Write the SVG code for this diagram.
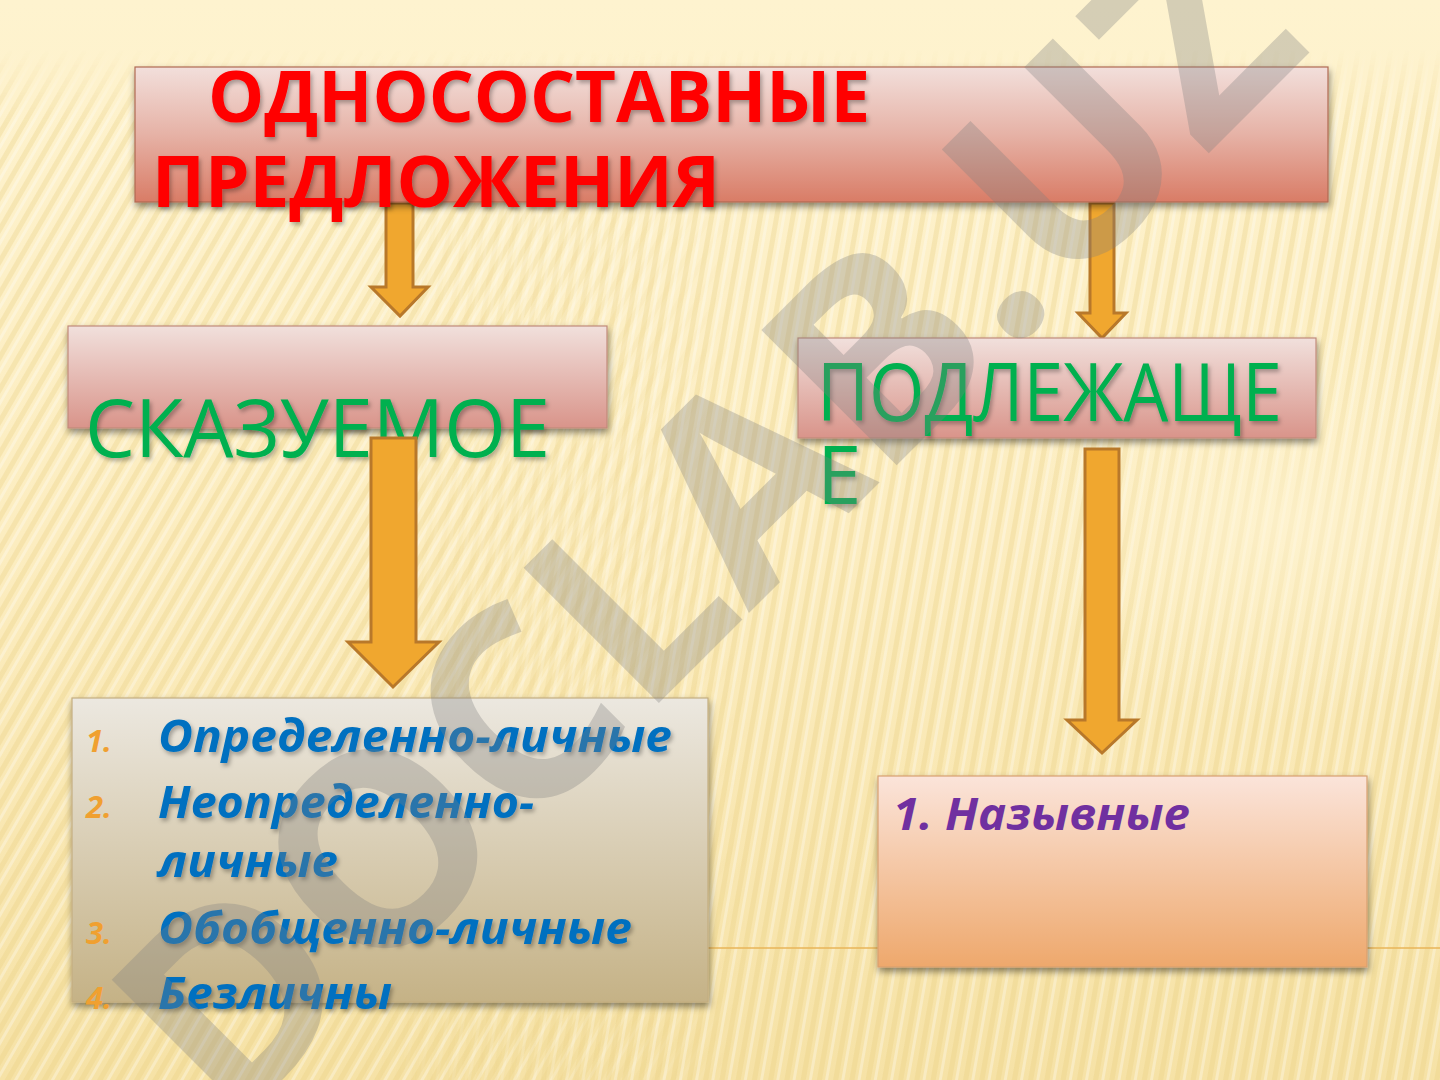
<svg xmlns="http://www.w3.org/2000/svg" width="1440" height="1080" viewBox="0 0 1440 1080">
<defs>
  <linearGradient id="bg" x1="0" y1="0" x2="0" y2="1">
    <stop offset="0" stop-color="#fef3cf"/>
    <stop offset="0.5" stop-color="#fcedc0"/>
    <stop offset="1" stop-color="#f6e2a6"/>
  </linearGradient>
  <linearGradient id="fadeTopL" x1="0" y1="0" x2="1" y2="0">
    <stop offset="0" stop-color="#fff" stop-opacity="1"/>
    <stop offset="0.45" stop-color="#fff" stop-opacity="1"/>
    <stop offset="0.75" stop-color="#fff" stop-opacity="0"/>
  </linearGradient>
  <linearGradient id="fadeTopR" x1="0" y1="0" x2="1" y2="0">
    <stop offset="0" stop-color="#fff" stop-opacity="0"/>
    <stop offset="0.25" stop-color="#fff" stop-opacity="0"/>
    <stop offset="0.45" stop-color="#fff" stop-opacity="1"/>
    <stop offset="1" stop-color="#fff" stop-opacity="1"/>
  </linearGradient>
  <linearGradient id="fadeV" x1="0" y1="0" x2="0" y2="1">
    <stop offset="0" stop-color="#fff" stop-opacity="0"/>
    <stop offset="0.07" stop-color="#fff" stop-opacity="1"/>
    <stop offset="1" stop-color="#fff" stop-opacity="1"/>
  </linearGradient>
  <mask id="maskV">
    <rect x="0" y="50" width="1440" height="1030" fill="url(#fadeV)"/>
  </mask>
  <mask id="maskL">
    <rect x="0" y="0" width="1000" height="1080" fill="url(#fadeTopL)"/>
  </mask>
  <mask id="maskR">
    <rect x="0" y="0" width="1440" height="1080" fill="url(#fadeTopR)"/>
  </mask>
  <pattern id="stripesL" width="16" height="16" patternUnits="userSpaceOnUse" patternTransform="rotate(30)">
    <rect x="0" y="0" width="5" height="16" fill="#e8cf80" opacity="0.3"/>
    <rect x="8" y="0" width="3" height="16" fill="#ffffff" opacity="0.3"/>
  </pattern>
  <pattern id="stripesR" width="16" height="16" patternUnits="userSpaceOnUse" patternTransform="rotate(10)">
    <rect x="0" y="0" width="5" height="16" fill="#e8cf80" opacity="0.3"/>
    <rect x="8" y="0" width="3" height="16" fill="#ffffff" opacity="0.3"/>
  </pattern>
  <radialGradient id="blob" cx="0.5" cy="0.5" r="0.5">
    <stop offset="0" stop-color="#fff6d8" stop-opacity="0.6"/>
    <stop offset="1" stop-color="#fff6d8" stop-opacity="0"/>
  </radialGradient>
  <linearGradient id="pinkGrad" x1="0" y1="0" x2="0" y2="1">
    <stop offset="0" stop-color="#f2dfdb"/>
    <stop offset="0.5" stop-color="#e6b2a6"/>
    <stop offset="1" stop-color="#d97c66"/>
  </linearGradient>
  <linearGradient id="pinkGrad2" x1="0" y1="0" x2="0" y2="1">
    <stop offset="0" stop-color="#f1e0dc"/>
    <stop offset="1" stop-color="#d9948a"/>
  </linearGradient>
  <linearGradient id="khakiGrad" x1="0" y1="0" x2="0" y2="1">
    <stop offset="0" stop-color="#ece8e0"/>
    <stop offset="1" stop-color="#c5b286"/>
  </linearGradient>
  <linearGradient id="peachGrad" x1="0" y1="0" x2="0" y2="1">
    <stop offset="0" stop-color="#fbe4da"/>
    <stop offset="1" stop-color="#eea86c"/>
  </linearGradient>
  <filter id="boxShadow" x="-5%" y="-10%" width="112%" height="130%">
    <feDropShadow dx="1" dy="4" stdDeviation="3.5" flood-color="#000" flood-opacity="0.45"/>
  </filter>
  <filter id="textShadow" x="-5%" y="-10%" width="110%" height="130%">
    <feDropShadow dx="2" dy="3" stdDeviation="2" flood-color="#000" flood-opacity="0.3"/>
  </filter>
  <style>
    .box { stroke-width: 1.2; filter: url(#boxShadow); }
    .arrow { fill: #f0a72f; stroke: #b8782a; stroke-width: 3; stroke-linejoin: miter; }
    .title { font-family: "Open Sans", "Noto Sans", sans-serif; font-weight: 700; font-size: 72px; fill: #ff0000; filter: url(#textShadow); }
    .green { font-family: "Open Sans", "Noto Sans", sans-serif; font-weight: 400; font-size: 80px; fill: #00b050; filter: url(#textShadow); }
    .item { font-family: "Open Sans", "Noto Sans", sans-serif; font-weight: 700; font-style: italic; font-size: 44px; fill: #0070c0; filter: url(#textShadow); }
    .num { font-family: "Open Sans", "Noto Sans", sans-serif; font-weight: 700; font-style: italic; font-size: 31px; fill: #f0a030; }
    .purple { font-family: "Open Sans", "Noto Sans", sans-serif; font-weight: 700; font-style: italic; font-size: 44px; fill: #7030a0; }
    .wm { font-family: "Open Sans", "Noto Sans", sans-serif; font-weight: 700; font-size: 268px; fill: #7f7f7f; fill-opacity: 0.32; }
  </style>
</defs>

<!-- background -->
<rect x="0" y="0" width="1440" height="1080" fill="url(#bg)"/>
<g mask="url(#maskV)">
  <g mask="url(#maskL)">
    <rect x="0" y="50" width="1000" height="1030" fill="url(#stripesL)"/>
  </g>
  <g mask="url(#maskR)">
    <rect x="0" y="50" width="1440" height="1030" fill="url(#stripesR)"/>
  </g>
</g>
<ellipse cx="1280" cy="520" rx="260" ry="200" fill="url(#blob)"/>
<line x1="700" y1="948" x2="1440" y2="948" stroke="#e8b458" stroke-width="1.5"/>

<!-- connectors -->
<g id="connectors">
  <path class="arrow" d="M386,203 H413 V287 H428 L400,316 L371,287 H386 Z"/>
  <path class="arrow" d="M1090,203 H1114 V313 H1126 L1102,338 L1078,313 H1090 Z"/>
</g>

<!-- nodes -->
<g id="node-title">
  <rect class="box" x="135" y="67" width="1193" height="135" fill="url(#pinkGrad)" stroke="#b06a52"/>
  <text class="title" x="208" y="122" textLength="662" lengthAdjust="spacingAndGlyphs">ОДНОСОСТАВНЫЕ</text>
  <text class="title" x="152" y="207" textLength="568" lengthAdjust="spacingAndGlyphs">ПРЕДЛОЖЕНИЯ</text>
</g>

<g id="node-skazuemoe">
  <rect class="box" x="68" y="326" width="539" height="102" fill="url(#pinkGrad2)" stroke="#c08a7a"/>
  <text class="green" x="85" y="457" textLength="465" lengthAdjust="spacingAndGlyphs">СКАЗУЕМОЕ</text>
</g>

<g id="node-podlezhashchee">
  <rect class="box" x="798" y="338" width="518" height="100" fill="url(#pinkGrad2)" stroke="#c08a7a"/>
  <text class="green" x="817" y="421" textLength="465" lengthAdjust="spacingAndGlyphs">ПОДЛЕЖАЩЕ</text>
  <text class="green" x="817" y="504">Е</text>
</g>

<g id="connectors-lower">
  <path class="arrow" d="M371,438 H416 V642 H439 L393,687 L348,642 H371 Z"/>
  <path class="arrow" d="M1085,449 H1119 V720 H1137 L1102,753 L1067,720 H1085 Z"/>
</g>

<g id="node-list">
  <rect class="box" x="72" y="698" width="636" height="304" fill="url(#khakiGrad)" stroke="#c4ad80"/>
  <text class="num" x="86" y="752">1.</text>
  <text class="item" x="158" y="752" textLength="514" lengthAdjust="spacingAndGlyphs">Определенно-личные</text>
  <text class="num" x="86" y="818">2.</text>
  <text class="item" x="158" y="818" textLength="376" lengthAdjust="spacingAndGlyphs">Неопределенно-</text>
  <text class="item" x="158" y="877" textLength="180" lengthAdjust="spacingAndGlyphs">личные</text>
  <text class="num" x="86" y="944">3.</text>
  <text class="item" x="158" y="944" textLength="474" lengthAdjust="spacingAndGlyphs">Обобщенно-личные</text>
  <text class="num" x="86" y="1009">4.</text>
  <text class="item" x="158" y="1009" textLength="234" lengthAdjust="spacingAndGlyphs">Безличны</text>
</g>

<g id="node-nazyvnye">
  <rect class="box" x="878" y="776" width="489" height="191" fill="url(#peachGrad)" stroke="#d8a070"/>
  <text class="purple" x="893" y="830" textLength="297" lengthAdjust="spacingAndGlyphs">1. Назывные</text>
</g>

<!-- watermark -->
<text class="wm" x="0" y="0" text-anchor="middle" transform="translate(772,590) rotate(-45)">DOCLAB.UZ</text>
</svg>
